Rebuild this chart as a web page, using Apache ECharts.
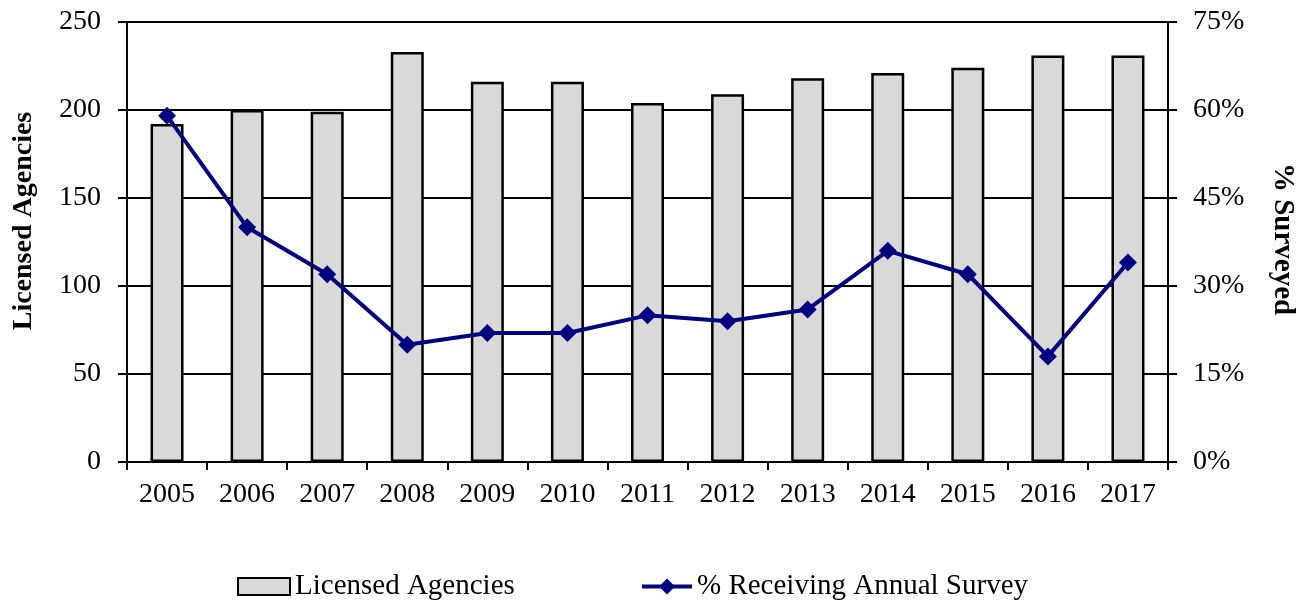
<!DOCTYPE html>
<html><head><meta charset="utf-8">
<script src="https://cdn.jsdelivr.net/npm/echarts@6/dist/echarts.min.js"></script>
<style>html,body{margin:0;padding:0;background:#fff}#c{width:1309px;height:601px}</style>
</head><body><div id="c"></div>
<script>
const years = ['2005','2006','2007','2008','2009','2010','2011','2012','2013','2014','2015','2016','2017'];
const licensedAgencies = [192,200,199,233,216,216,204,209,218,221,224,231,231];
const pctSurveyed = [59,40,32,20,22,22,25,24,26,36,32,18,34];
const leftTicks = [0,50,100,150,200,250];
const rightTicks = [0,15,30,45,60,75];

const F = '"Liberation Serif", "Times New Roman", serif';
const chart = echarts.init(document.getElementById('c'));
chart.setOption({
  animation: false,
  backgroundColor: '#fff',
  textStyle: {fontFamily: F, color: '#000'},
  grid: {left: 127, right: 141, top: 22, bottom: 139},
  legend: [
    {left: 237, top: 572, padding: 0, itemWidth: 52, itemHeight: 17,
     textStyle: {fontFamily: F, fontSize: 29, color: '#000'},
     data: [{name: 'Licensed Agencies', icon: 'rect'}]},
    {left: 640, top: 572, padding: 0, itemWidth: 50, itemHeight: 20,
     textStyle: {fontFamily: F, fontSize: 29, color: '#000'},
     lineStyle: {width: 4, color: '#000080'},
     data: [{name: '% Receiving Annual Survey'}]}
  ],
  xAxis: {
    type: 'category', data: years, boundaryGap: true,
    axisLine: {lineStyle: {color: '#000', width: 2}},
    axisTick: {show: true, length: 8, lineStyle: {color: '#000', width: 2}},
    axisLabel: {fontFamily: F, fontSize: 28, color: '#000', margin: 19}
  },
  yAxis: [
    {type: 'value', min: 0, max: 250, interval: 50,
     name: 'Licensed Agencies', nameLocation: 'middle', nameGap: 89, nameRotate: 90,
     nameTextStyle: {fontFamily: F, fontSize: 28, fontWeight: 'bold', color: '#000', padding: [0,0,0,42]},
     axisLine: {show: true, lineStyle: {color: '#000', width: 2}},
     axisTick: {show: true, length: 9, lineStyle: {color: '#000', width: 2}},
     axisLabel: {fontFamily: F, fontSize: 28, color: '#000', margin: 26},
     splitLine: {show: true, lineStyle: {color: '#000', width: 2}}},
    {type: 'value', min: 0, max: 75, interval: 15, position: 'right',
     name: '% Surveyed', nameLocation: 'middle', nameGap: 100, nameRotate: -90,
     nameTextStyle: {fontFamily: F, fontSize: 29, fontWeight: 'bold', color: '#000', padding: [0,6,0,0]},
     axisLine: {show: true, lineStyle: {color: '#000', width: 2}},
     axisTick: {show: true, length: 9, lineStyle: {color: '#000', width: 2}},
     axisLabel: {fontFamily: F, fontSize: 28, color: '#000', margin: 25, formatter: '{value}%'},
     splitLine: {show: false}}
  ],
  series: [
    {name: 'Licensed Agencies', type: 'bar', data: licensedAgencies, barWidth: 33,
     itemStyle: {color: '#d9d9d9', borderColor: '#000', borderWidth: 2.5}},
    {name: '% Receiving Annual Survey', type: 'line', yAxisIndex: 1, data: pctSurveyed,
     symbol: 'diamond', symbolSize: 18,
     lineStyle: {color: '#000080', width: 4},
     itemStyle: {color: '#000080'}}
  ]
});
</script></body></html>
